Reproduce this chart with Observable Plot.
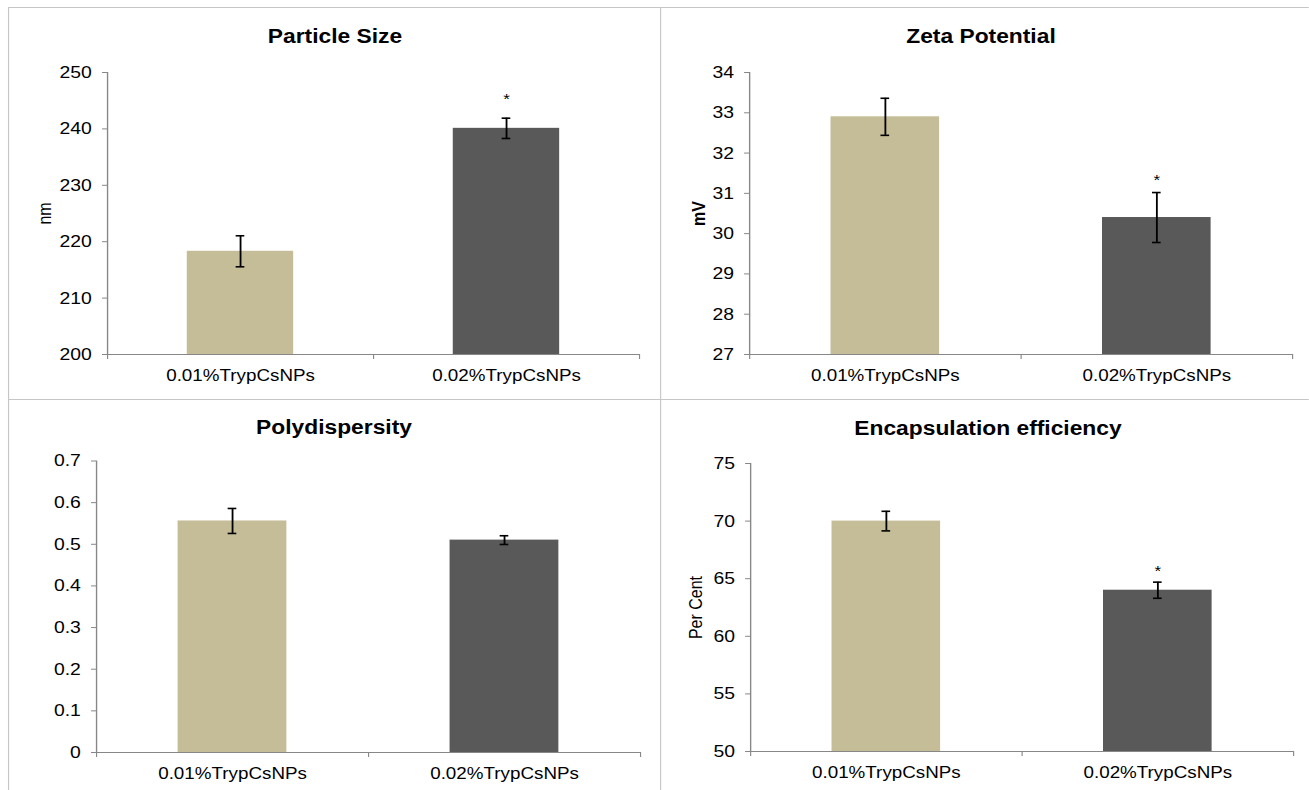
<!DOCTYPE html>
<html>
<head>
<meta charset="utf-8">
<script src="https://cdn.jsdelivr.net/npm/d3@7"></script>
<script src="https://cdn.jsdelivr.net/npm/@observablehq/plot@0.6"></script>
<style>
  html, body { margin: 0; padding: 0; background: #fff; }
  body { width: 1309px; height: 790px; overflow: hidden; position: relative; font-family: "Liberation Sans", Arial, sans-serif; }
  #stage { position: absolute; left: 0; top: 0; height: 790px; transform-origin: 0 0; }
  .line { position: absolute; background: #c6c6c6; }
  .title { position: absolute; text-align: center; font: bold 20px "Liberation Sans", Arial, sans-serif; line-height: 20px; color: #000; white-space: nowrap; }
  .panel { position: absolute; }
</style>
</head>
<body>
<div id="stage"></div>
<script>
// ---- data ----
const categories = ["0.01%TrypCsNPs", "0.02%TrypCsNPs"];
const colors = ["#C4BD97", "#595959"];

const sizeMean = [218.3, 240.1];
const sizeErr = [2.75, 1.8];
const sizeStar = [null, 246.0];
const sizeDomain = [200, 250];
const sizeTicks = [200, 210, 220, 230, 240, 250];

const zetaMean = [32.9, 30.4];
const zetaErr = [0.46, 0.62];
const zetaStar = [null, 31.42];
const zetaDomain = [27, 34];
const zetaTicks = [27, 28, 29, 30, 31, 32, 33, 34];

const pdiMean = [0.556, 0.51];
const pdiErr = [0.03, 0.0105];
const pdiStar = [null, null];
const pdiDomain = [0, 0.7];
const pdiTicks = [0, 0.1, 0.2, 0.3, 0.4, 0.5, 0.6, 0.7];

const eeMean = [70.0, 64.0];
const eeErr = [0.85, 0.7];
const eeStar = [null, 66.0];
const eeDomain = [50, 75];
const eeTicks = [50, 55, 60, 65, 70, 75];

// ---- layout (reference pixel coordinates) ----
const S = 1.14; // horizontal stretch of the reference rendering
const px = (x) => x / S;
const stage = document.getElementById("stage");
stage.style.width = px(1309) + "px";
stage.style.transform = `scaleX(${S})`;

const FONT = '"Liberation Sans", Arial, sans-serif';
const AXIS = "#878787";

function line(x, y, w, h) {
  const d = document.createElement("div");
  d.className = "line";
  d.style.left = px(x) + "px";
  d.style.top = y + "px";
  d.style.width = px(w) + "px";
  d.style.height = h + "px";
  stage.appendChild(d);
}
line(7.5, 6.5, 1309 - 7.5, 1.5);
line(7.5, 6.5, 1.5, 790);
line(659.5, 6.5, 1.5, 790);
line(7.5, 398.5, 1309 - 7.5, 1.5);

const panels = [
  { title: "Particle Size", ylabel: "nm", bold: false, mean: sizeMean, err: sizeErr, star: sizeStar, domain: sizeDomain, ticks: sizeTicks,
    box: [8, 7, 660, 399], axis: [107, 639, 72, 354], titleX: 335, titleBase: 43, ylabelX: 45 },
  { title: "Zeta Potential", ylabel: "mV", bold: true, mean: zetaMean, err: zetaErr, star: zetaStar, domain: zetaDomain, ticks: zetaTicks,
    box: [660, 7, 1309, 399], axis: [749, 1292, 72, 354], titleX: 981, titleBase: 43, ylabelX: 699 },
  { title: "Polydispersity", ylabel: null, bold: false, mean: pdiMean, err: pdiErr, star: pdiStar, domain: pdiDomain, ticks: pdiTicks,
    box: [8, 399, 660, 790], axis: [96, 640, 460.5, 752], titleX: 334, titleBase: 434, ylabelX: 0 },
  { title: "Encapsulation efficiency", ylabel: "Per Cent", bold: false, mean: eeMean, err: eeErr, star: eeStar, domain: eeDomain, ticks: eeTicks,
    box: [660, 399, 1309, 790], axis: [750, 1293, 463, 751], titleX: 988, titleBase: 435, ylabelX: 696 }
];

for (const p of panels) {
  const [bx0, by0, bx1, by1] = p.box;
  const [ax0, ax1, ay0, ay1] = p.axis;
  const width = px(bx1 - bx0);
  const height = by1 - by0;
  const catW = px(ax1 - ax0) / 2;
  const inset = catW * 0.3;
  const idx = categories.map((_, i) => i);
  const lo = (i) => p.mean[i] - p.err[i];
  const hi = (i) => p.mean[i] + p.err[i];
  const starIdx = idx.filter((i) => p.star[i] != null);
  const fmt = (d) => String(+d.toFixed(2));

  const marks = [
    Plot.rectY(idx, { x1: (i) => i, x2: (i) => i + 1, y1: p.domain[0], y2: (i) => p.mean[i], fill: (i) => colors[i], insetLeft: inset, insetRight: inset }),
    Plot.ruleX(idx, { x: (i) => i + 0.5, y1: lo, y2: hi, stroke: "#000", strokeWidth: 1.6 }),
    Plot.ruleY(idx, { y: hi, x1: (i) => i + 0.5, x2: (i) => i + 0.5, insetLeft: -3.8, insetRight: -3.8, stroke: "#000", strokeWidth: 1.6 }),
    Plot.ruleY(idx, { y: lo, x1: (i) => i + 0.5, x2: (i) => i + 0.5, insetLeft: -3.8, insetRight: -3.8, stroke: "#000", strokeWidth: 1.6 }),
    Plot.text(starIdx, { x: (i) => i + 0.5, y: (i) => p.star[i], text: () => "*", fontSize: 15, dy: 4, fill: "#000" }),
    Plot.ruleX([0], { stroke: AXIS, strokeWidth: 1.2 }),
    Plot.ruleY([p.domain[0]], { stroke: AXIS, strokeWidth: 1.2 }),
    Plot.axisY({ ticks: p.ticks, tickFormat: fmt, tickSize: px(5), tickPadding: 9.4, stroke: AXIS, fill: "#000", fontSize: 17, label: null }),
    Plot.axisX({ ticks: [0, 1, 2], tickSize: 5, tickFormat: () => "", stroke: AXIS, label: null }),
    Plot.axisX({ ticks: [0.5, 1.5], tickSize: 0, tickPadding: 15, tickFormat: (d) => categories[Math.floor(d)], fill: "#000", fontSize: 16.5, label: null })
  ];
  if (p.ylabel) {
    marks.push(Plot.text([p.ylabel], { frameAnchor: "left", text: (d) => d, rotate: -90, dx: -px(ax0 - p.ylabelX), lineAnchor: "middle", textAnchor: "middle", fontSize: 16, fontWeight: p.bold ? "bold" : "normal", fill: "#000" }));
  }

  const chart = Plot.plot({
    width, height,
    marginLeft: px(ax0 - bx0),
    marginRight: px(bx1 - ax1),
    marginTop: ay0 - by0,
    marginBottom: by1 - ay1,
    style: { fontFamily: FONT, fontSize: "16px", color: "#000", background: "transparent", overflow: "visible" },
    x: { type: "linear", domain: [0, 2] },
    y: { domain: p.domain },
    color: { type: "identity" },
    marks
  });
  const wrap = document.createElement("div");
  wrap.className = "panel";
  wrap.style.left = px(bx0) + "px";
  wrap.style.top = by0 + "px";
  wrap.appendChild(chart);
  stage.appendChild(wrap);

  const t = document.createElement("div");
  t.className = "title";
  t.textContent = p.title;
  t.style.left = (px(p.titleX) - 200) + "px";
  t.style.width = "400px";
  t.style.top = (p.titleBase - 16.9) + "px";
  stage.appendChild(t);
}
</script>
</body>
</html>
